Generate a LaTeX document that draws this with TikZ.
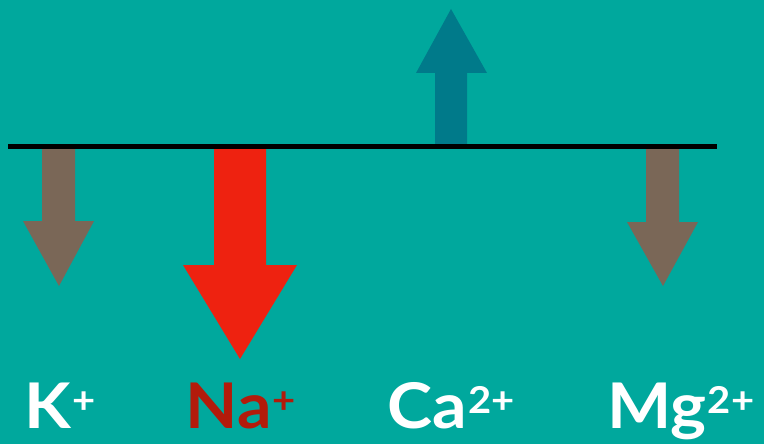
\documentclass[tikz,border=0pt]{standalone}
\usepackage{fontspec}
\setmainfont{Lato}[BoldFont={Lato Bold},BoldFeatures={FakeStretch=1.08}]
\definecolor{bgteal}{RGB}{0,168,157}
\definecolor{arrbrown}{RGB}{122,103,87}
\definecolor{arrred}{RGB}{238,34,16}
\definecolor{arrteal}{RGB}{0,122,138}
\definecolor{txtred}{RGB}{179,27,11}
\newcommand\ionsup[1]{\hspace{1pt}\raisebox{15pt}{\fontsize{37}{37}\selectfont #1}}
\begin{document}
\begin{tikzpicture}[x=1pt,y=-1pt,
  ionlabel/.style={anchor=base,inner sep=0pt,font=\fontsize{63}{63}\selectfont\bfseries,text=white},
  membrane/.style={line width=5pt,black}]
\fill[bgteal] (0,0) rectangle (764,444);
\useasboundingbox (0,0) rectangle (764,444);
% K+ arrow
\fill[arrbrown] (42,146) -- (75,146) -- (75,221) -- (94,221) -- (59,286) -- (23,221) -- (42,221) -- cycle;
% Na+ arrow
\fill[arrred] (214,146) -- (266,146) -- (266,265) -- (297,265) -- (240,359) -- (183,265) -- (214,265) -- cycle;
% Ca2+ arrow
\fill[arrteal] (435,146) -- (467,146) -- (467,73) -- (487,73) -- (451,9) -- (416,73) -- (435,73) -- cycle;
% Mg2+ arrow
\fill[arrbrown] (646,146) -- (679,146) -- (679,222) -- (698,222) -- (663,286) -- (627,222) -- (646,222) -- cycle;
% membrane
\coordinate (mL) at (8,146);
\coordinate (mR) at (717,146);
\draw[membrane] (mL) -- (mR);
% labels
\node[ionlabel] (K) at (60,428) {K\ionsup{+}};
\node[ionlabel,text=txtred] (Na) at (241,428) {Na\ionsup{+}};
\node[ionlabel] (Ca) at (451,428) {Ca\ionsup{2+}};
\node[ionlabel] (Mg) at (681,428) {Mg\ionsup{2+}};
\end{tikzpicture}
\end{document}
